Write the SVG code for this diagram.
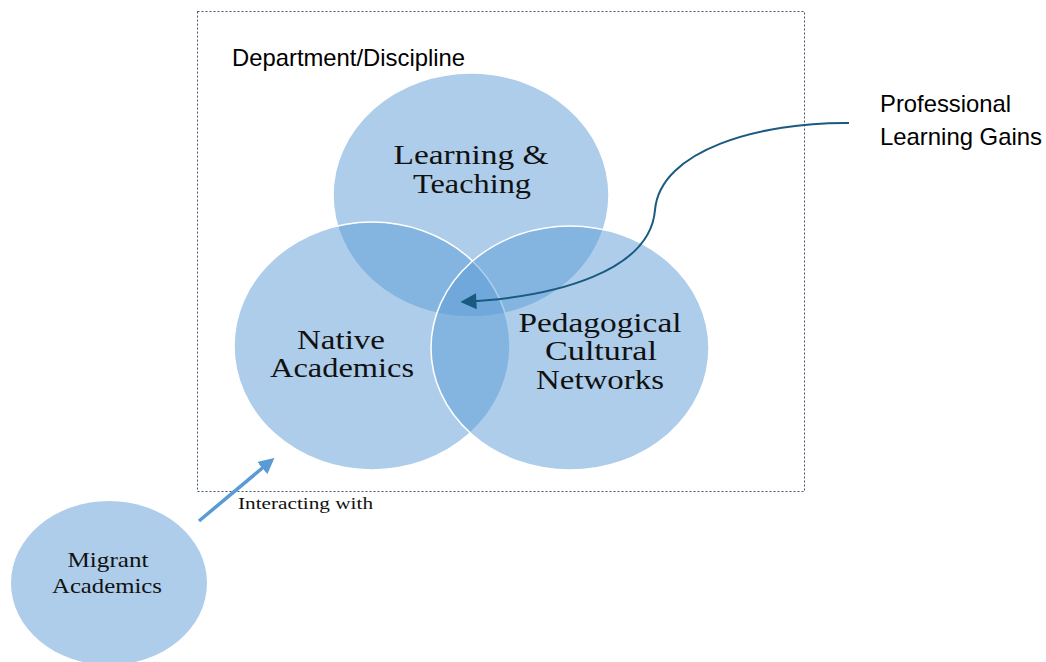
<svg xmlns="http://www.w3.org/2000/svg" width="1046" height="662" viewBox="0 0 1046 662">
<style>
.c{fill:#5b9bd5;fill-opacity:0.5;stroke:#ffffff;stroke-width:1.5}
.s{font-family:"Liberation Serif",serif;fill:#111;text-anchor:middle}
.a{font-family:"Liberation Sans",Arial,sans-serif;fill:#000}
</style>
<defs>
<marker id="ah" viewBox="0 0 10 10" refX="9" refY="5" markerWidth="9" markerHeight="8" orient="auto" markerUnits="strokeWidth"><path d="M0,0 L10,5 L0,10 z" fill="#1a5a80"/></marker>
<marker id="bh" viewBox="0 0 10 10" refX="8" refY="5" markerWidth="4.5" markerHeight="4.5" orient="auto" markerUnits="strokeWidth"><path d="M0,0 L10,5 L0,10 z" fill="#5b9bd5"/></marker>
</defs>
<g id="box"><rect x="197.5" y="11.5" width="607" height="480" fill="none" stroke="#44546a" stroke-width="1" stroke-dasharray="2,2"/>
<text class="a" x="232" y="66" font-size="24" textLength="233" lengthAdjust="spacingAndGlyphs">Department/Discipline</text></g>
<g id="learning"><ellipse class="c" cx="471" cy="195" rx="138" ry="122"/></g>
<g id="native"><ellipse class="c" cx="372" cy="346" rx="138" ry="124"/></g>
<g id="pedagogical"><ellipse class="c" cx="570" cy="348" rx="139" ry="122"/></g>
<g id="labels">
<text class="s" x="471" y="164" font-size="27" textLength="155" lengthAdjust="spacingAndGlyphs">Learning &amp;</text>
<text class="s" x="472" y="193" font-size="27" textLength="118" lengthAdjust="spacingAndGlyphs">Teaching</text>
<text class="s" x="341" y="349" font-size="27" textLength="88" lengthAdjust="spacingAndGlyphs">Native</text>
<text class="s" x="342" y="377" font-size="27" textLength="144" lengthAdjust="spacingAndGlyphs">Academics</text>
<text class="s" x="600" y="332" font-size="27" textLength="163" lengthAdjust="spacingAndGlyphs">Pedagogical</text>
<text class="s" x="601" y="360" font-size="27" textLength="112" lengthAdjust="spacingAndGlyphs">Cultural</text>
<text class="s" x="600" y="389" font-size="27" textLength="128" lengthAdjust="spacingAndGlyphs">Networks</text>
</g>
<g id="migrant"><ellipse cx="109" cy="583" rx="98" ry="82" fill="#adcdea"/>
<text class="s" x="108" y="567" font-size="21" textLength="81" lengthAdjust="spacingAndGlyphs">Migrant</text>
<text class="s" x="107" y="593" font-size="21" textLength="110" lengthAdjust="spacingAndGlyphs">Academics</text></g>
<g id="gains"><text class="a" x="880" y="112" font-size="24" textLength="131" lengthAdjust="spacingAndGlyphs">Professional</text>
<text class="a" x="880" y="145" font-size="24" textLength="162" lengthAdjust="spacingAndGlyphs">Learning Gains</text></g>
<g id="connectors">
<path d="M849,123 C760,122 660,150 655,210 C650,270 560,297 462,302" fill="none" stroke="#1a5a80" stroke-width="2" marker-end="url(#ah)"/>
<line x1="199" y1="521" x2="272" y2="460" stroke="#5b9bd5" stroke-width="3.5" marker-end="url(#bh)"/>
<text class="s" x="238" y="509" font-size="17" style="text-anchor:start" textLength="135" lengthAdjust="spacingAndGlyphs">Interacting with</text>
</g>
</svg>
